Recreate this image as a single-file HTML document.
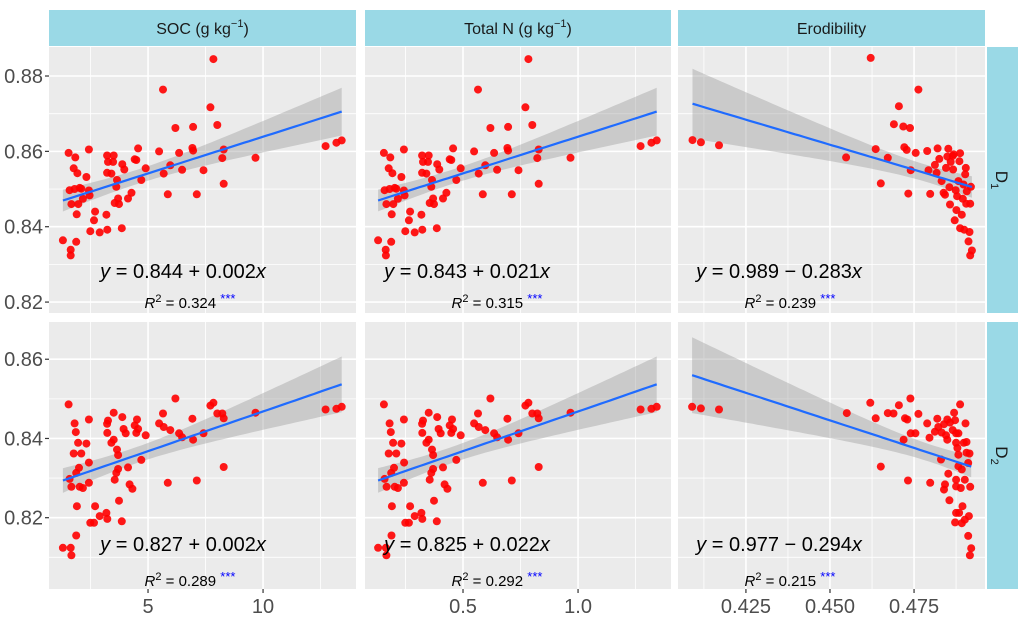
<!DOCTYPE html>
<html><head><meta charset="utf-8"><style>
html,body{margin:0;padding:0;background:#fff}
svg{display:block;font-family:"Liberation Sans",Arial,sans-serif}
</style></head><body>
<svg id="chart" width="1024" height="618" viewBox="0 0 1024 618" xmlns="http://www.w3.org/2000/svg"></svg>
<script>
const colTitles=['SOC (g kg','Total N (g kg','Erodibility'];
const rowTitles=['1','2'];
const socX=[1.30,1.64,1.64,1.88,1.90,1.55,1.84,1.77,1.93,1.59,1.81,2.03,1.67,1.97,2.17,2.10,2.43,2.32,2.43,2.46,2.49,2.65,2.70,2.90,3.19,3.23,3.22,3.51,3.26,3.48,3.22,3.41,3.65,3.62,3.55,3.70,3.74,3.88,3.97,3.86,4.13,4.28,4.42,4.57,4.49,4.71,4.90,5.48,5.65,5.68,5.86,5.97,6.19,6.35,6.48,6.93,6.96,6.96,7.12,7.41,7.71,7.84,8.01,8.23,8.29,8.29,9.67,12.72,13.19,13.42];
const nX=[0.131,0.164,0.165,0.188,0.190,0.156,0.184,0.177,0.193,0.159,0.181,0.203,0.167,0.197,0.217,0.210,0.243,0.232,0.243,0.246,0.249,0.265,0.270,0.290,0.319,0.323,0.322,0.351,0.326,0.348,0.322,0.341,0.365,0.362,0.355,0.370,0.374,0.388,0.397,0.386,0.413,0.428,0.442,0.457,0.449,0.471,0.490,0.548,0.565,0.568,0.586,0.597,0.619,0.635,0.648,0.693,0.696,0.696,0.712,0.741,0.771,0.784,0.801,0.823,0.829,0.829,0.967,1.272,1.319,1.342];
const d1Y=[0.8364,0.8339,0.8324,0.8360,0.8433,0.8596,0.8584,0.8555,0.8542,0.8497,0.8500,0.8503,0.8460,0.8460,0.8474,0.8501,0.8605,0.8532,0.8496,0.8483,0.8388,0.8417,0.8440,0.8385,0.8432,0.8392,0.8589,0.8589,0.8572,0.8572,0.8543,0.8541,0.8524,0.8506,0.8463,0.8475,0.8460,0.8566,0.8552,0.8396,0.8475,0.8490,0.8579,0.8608,0.8577,0.8524,0.8555,0.8600,0.8764,0.8541,0.8486,0.8563,0.8662,0.8596,0.8551,0.8609,0.8665,0.8602,0.8486,0.8550,0.8717,0.8845,0.8670,0.8582,0.8605,0.8514,0.8583,0.8614,0.8623,0.8629];
const socX2=[1.30,1.55,1.64,1.67,1.59,1.67,1.77,1.81,1.86,1.88,1.91,1.88,1.96,2.00,2.03,2.10,2.17,2.32,2.43,2.43,2.43,2.49,2.65,2.70,2.90,3.19,3.23,3.22,3.26,3.23,3.41,3.51,3.51,3.55,3.62,3.65,3.70,3.70,3.74,3.86,3.88,3.94,4.03,4.13,4.20,4.32,4.42,4.52,4.49,4.57,4.71,4.90,5.48,5.65,5.68,5.86,5.97,6.19,6.35,6.48,6.93,6.96,7.12,7.41,7.71,7.84,8.01,8.23,8.29,8.29,9.67,12.72,13.19,13.42];
const nX2=[0.131,0.156,0.165,0.167,0.159,0.168,0.177,0.181,0.186,0.188,0.191,0.189,0.196,0.200,0.203,0.210,0.217,0.232,0.243,0.244,0.243,0.249,0.265,0.270,0.290,0.319,0.323,0.322,0.326,0.323,0.341,0.351,0.351,0.355,0.362,0.365,0.370,0.370,0.374,0.386,0.388,0.394,0.403,0.413,0.420,0.432,0.442,0.452,0.449,0.457,0.471,0.490,0.548,0.565,0.568,0.586,0.597,0.619,0.635,0.648,0.693,0.696,0.712,0.741,0.771,0.784,0.801,0.823,0.829,0.829,0.967,1.272,1.319,1.342];
const d2Y=[0.8124,0.8486,0.8124,0.8105,0.8298,0.8278,0.8362,0.8438,0.8416,0.8313,0.8229,0.8155,0.8389,0.8326,0.8278,0.8362,0.8275,0.8387,0.8448,0.8339,0.8288,0.8187,0.8187,0.8229,0.8204,0.8212,0.8197,0.8437,0.8445,0.8414,0.8389,0.8397,0.8465,0.8296,0.8313,0.8372,0.8323,0.8358,0.8243,0.8191,0.8454,0.8424,0.8413,0.8327,0.8284,0.8273,0.8433,0.8448,0.8414,0.8424,0.8346,0.8408,0.8438,0.8463,0.8429,0.8288,0.8421,0.8501,0.8413,0.8403,0.8450,0.8397,0.8294,0.8413,0.8483,0.8490,0.8463,0.8463,0.8451,0.8328,0.8465,0.8473,0.8475,0.8480];
const erodX1=[.4091,.4116,.4170,.4548,.4621,.4636,.4651,.4672,.4690,.4705,.4718,.4738,.4763,.4721,.4728,.4755,.4733,.4740,.4789,.4793,.4798,.4812,.4817,.4820,.4825,.4832,.4838,.4842,.4845,.4849,.4852,.4855,.4857,.4859,.4865,.4866,.4868,.4871,.4874,.4876,.4878,.4882,.4885,.4887,.4887,.4892,.4895,.4897,.4899,.4902,.4904,.4905,.4907,.4912,.4915,.4917,.4919,.4922,.4917];
const erodY1=[.8630,.8624,.8616,.8584,.8848,.8606,.8515,.8583,.8672,.8720,.8666,.8662,.8764,.8611,.8604,.8596,.8488,.8550,.8601,.8550,.8487,.8564,.8543,.8608,.8580,.8521,.8490,.8485,.8556,.8586,.8607,.8505,.8459,.8572,.8588,.8552,.8592,.8417,.8497,.8444,.8481,.8521,.8574,.8595,.8396,.8432,.8474,.8512,.8392,.8539,.8556,.8461,.8494,.8361,.8386,.8461,.8506,.8337,.8324];
const erodX2=[.4090,.4116,.4170,.4550,.4620,.4636,.4651,.4672,.4689,.4705,.4723,.4730,.4739,.4740,.4754,.4732,.4719,.4763,.4789,.4796,.4798,.4812,.4819,.4822,.4832,.4830,.4839,.4845,.4849,.4842,.4839,.4852,.4855,.4849,.4857,.4865,.4869,.4872,.4875,.4882,.4875,.4879,.4882,.4875,.4875,.4882,.4887,.4892,.4889,.4884,.4875,.4872,.4894,.4901,.4903,.4898,.4906,.4906,.4915,.4911,.4917,.4901,.4913,.4911,.4920,.4916,.4892];
const erodY2=[.8480,.8476,.8473,.8464,.8490,.8451,.8329,.8464,.8463,.8484,.8451,.8448,.8501,.8413,.8413,.8294,.8397,.8462,.8438,.8402,.8288,.8417,.8450,.8429,.8415,.8347,.8436,.8408,.8397,.8284,.8271,.8311,.8244,.8448,.8440,.8421,.8465,.8446,.8413,.8413,.8389,.8376,.8359,.8296,.8279,.8330,.8486,.8322,.8275,.8212,.8212,.8188,.8229,.8296,.8438,.8389,.8391,.8364,.8362,.8338,.8278,.8195,.8204,.8154,.8123,.8105,.8186];
const eqText=[['0.844 + 0.002','0.843 + 0.021','0.989 \u2212 0.283'],['0.827 + 0.002','0.825 + 0.022','0.977 \u2212 0.294']];
const r2Text=[['0.324','0.315','0.239'],['0.289','0.292','0.215']];
const yTicks=[[0.82,0.84,0.86,0.88],[0.82,0.84,0.86]];
const yTickLabels=[['0.82','0.84','0.86','0.88'],['0.82','0.84','0.86']];
const xTicks=[[5,10],[0.5,1.0],[0.425,0.45,0.475]];
const xTickLabels=[['5','10'],['0.5','1.0'],['0.425','0.450','0.475']];
const xMinor=[[2.5,7.5,12.5],[0.25,0.75,1.25],[0.4125,0.4375,0.4625,0.4875]];
const yMinor=[[0.83,0.85,0.87],[0.81,0.83,0.85]];

const NS='http://www.w3.org/2000/svg';
const svg=document.getElementById('chart');
function mk(tag,attrs,parent){const e=document.createElementNS(NS,tag);for(const k in attrs)e.setAttribute(k,attrs[k]);(parent||svg).appendChild(e);return e;}
const colPx=[[49,356],[365,671],[678,985]];
const rowPx=[[47,313],[322,589]];
const xDom=[[0.696,14.04],[0.074,1.404],[0.4048,0.4961]];
const yDom=[[0.8171,0.8877],[0.802,0.8694]];
const data=[[[socX,d1Y],[nX,d1Y],[erodX1,erodY1]],[[socX2,d2Y],[nX2,d2Y],[erodX2,erodY2]]];
function sx(c,v){const[a,b]=xDom[c];const[p,q]=colPx[c];return p+(v-a)/(b-a)*(q-p);}
function sy(r,v){const[a,b]=yDom[r];const[p,q]=rowPx[r];return q-(v-a)/(b-a)*(q-p);}

for(let c=0;c<3;c++){
  const g=mk('g',{});
  
  
  mk('rect',{x:colPx[c][0],y:10,width:colPx[c][1]-colPx[c][0],height:36,fill:'#9ad9e6'},g);
  const t=mk('text',{x:(colPx[c][0]+colPx[c][1])/2,y:34,'text-anchor':'middle','font-size':16,fill:'#1a1a1a'},g);
  t.textContent=colTitles[c];
  if(c<2){const s=mk('tspan',{dy:-7,'font-size':11},t);s.textContent='\u22121';const s2=mk('tspan',{dy:7},t);s2.textContent=')';}
}
for(let r=0;r<2;r++){
  const g=mk('g',{});
  
  
  mk('rect',{x:987,y:rowPx[r][0],width:31,height:rowPx[r][1]-rowPx[r][0],fill:'#9ad9e6'},g);
  const cy=(rowPx[r][0]+rowPx[r][1])/2;
  const t=mk('text',{x:996,y:cy,'text-anchor':'middle','font-size':17,fill:'#1a1a1a',transform:`rotate(90 996 ${cy})`},g);
  t.textContent='D';const s=mk('tspan',{dy:5,'font-size':11},t);s.textContent=rowTitles[r];
}

for(let r=0;r<2;r++)for(let c=0;c<3;c++){
  const [X,Y]=data[r][c];
  const g=mk('g',{});
  
  
  const x0=colPx[c][0],x1=colPx[c][1],y0=rowPx[r][0],y1=rowPx[r][1];
  mk('rect',{x:x0,y:y0,width:x1-x0,height:y1-y0,fill:'#ebebeb'},g);
  yMinor[r].forEach(v=>{const y=sy(r,v);if(y>y0&&y<y1)mk('line',{x1:x0,x2:x1,y1:y,y2:y,stroke:'#fff','stroke-width':0.8},g);});
  xMinor[c].forEach(v=>{const x=sx(c,v);if(x>x0&&x<x1)mk('line',{x1:x,x2:x,y1:y0,y2:y1,stroke:'#fff','stroke-width':0.8},g);});
  yTicks[r].forEach(v=>{const y=sy(r,v);mk('line',{x1:x0,x2:x1,y1:y,y2:y,stroke:'#fff','stroke-width':1.6},g);});
  xTicks[c].forEach(v=>{const x=sx(c,v);mk('line',{x1:x,x2:x,y1:y0,y2:y1,stroke:'#fff','stroke-width':1.6},g);});
  const n=X.length;let mx=0,my=0;for(let i=0;i<n;i++){mx+=X[i];my+=Y[i];}mx/=n;my/=n;
  let sxx=0,sxy=0;for(let i=0;i<n;i++){sxx+=(X[i]-mx)**2;sxy+=(X[i]-mx)*(Y[i]-my);}
  const b=sxy/sxx,a=my-b*mx;let sse=0;for(let i=0;i<n;i++)sse+=(Y[i]-a-b*X[i])**2;
  const s=Math.sqrt(sse/(n-2)),tq=1.995;
  const xmin=Math.min(...X),xmax=Math.max(...X);const up=[],lo=[],ln=[];
  for(let k=0;k<=60;k++){const xv=xmin+(xmax-xmin)*k/60;const yv=a+b*xv;const h=tq*s*Math.sqrt(1/n+(xv-mx)**2/sxx);
    up.push(sx(c,xv).toFixed(1)+','+sy(r,yv+h).toFixed(1));lo.unshift(sx(c,xv).toFixed(1)+','+sy(r,yv-h).toFixed(1));ln.push(sx(c,xv).toFixed(1)+','+sy(r,yv).toFixed(1));}
  const band=mk('polygon',{points:up.concat(lo).join(' '),fill:'#999',opacity:0.4},g);
  
  
  for(let i=0;i<n;i++){
    const p=mk('circle',{cx:sx(c,X[i]).toFixed(1),cy:sy(r,Y[i]).toFixed(1),r:4,fill:'#ff0000',opacity:0.9},g);
    
    
  }
  const line=mk('polyline',{points:ln.join(' '),fill:'none',stroke:'#1f6bff','stroke-width':2.2},g);
  
  
  const ex=[183,467,779][c],ey=r===0?278:551;
  const eq=mk('text',{x:ex,y:ey,'text-anchor':'middle','font-size':20,fill:'#000'},g);
  
  
  const i1=mk('tspan',{'font-style':'italic'},eq);i1.textContent='y';
  const m1=mk('tspan',{},eq);m1.textContent=' = '+eqText[r][c];
  const i2=mk('tspan',{'font-style':'italic'},eq);i2.textContent='x';
  const rx=[190,497,790][c],ry=r===0?308:586;
  const rt=mk('text',{x:rx,y:ry,'text-anchor':'middle','font-size':15,fill:'#000'},g);
  
  
  const q1=mk('tspan',{'font-style':'italic'},rt);q1.textContent='R';
  const q2=mk('tspan',{dy:-6,'font-size':11},rt);q2.textContent='2';
  const q3=mk('tspan',{dy:6},rt);q3.textContent=' = '+r2Text[r][c]+' ';
  const q4=mk('tspan',{dy:-5,fill:'#0000ff','font-size':13},rt);q4.textContent='***';
}
for(let r=0;r<2;r++){
  yTicks[r].forEach((v,i)=>{const y=sy(r,v);
    mk('line',{x1:45,x2:49,y1:y,y2:y,stroke:'#333','stroke-width':1.2});
    const t=mk('text',{x:43,y:y+7,'text-anchor':'end','font-size':20,fill:'#4d4d4d'});
    
    
    t.textContent=yTickLabels[r][i];});
}
for(let c=0;c<3;c++){
  xTicks[c].forEach((v,i)=>{const x=sx(c,v);
    mk('line',{x1:x,x2:x,y1:589,y2:593,stroke:'#333','stroke-width':1.2});
    const t=mk('text',{x:x,y:613,'text-anchor':'middle','font-size':20,fill:'#4d4d4d'});
    
    
    t.textContent=xTickLabels[c][i];});
}
</script>
</body></html>
